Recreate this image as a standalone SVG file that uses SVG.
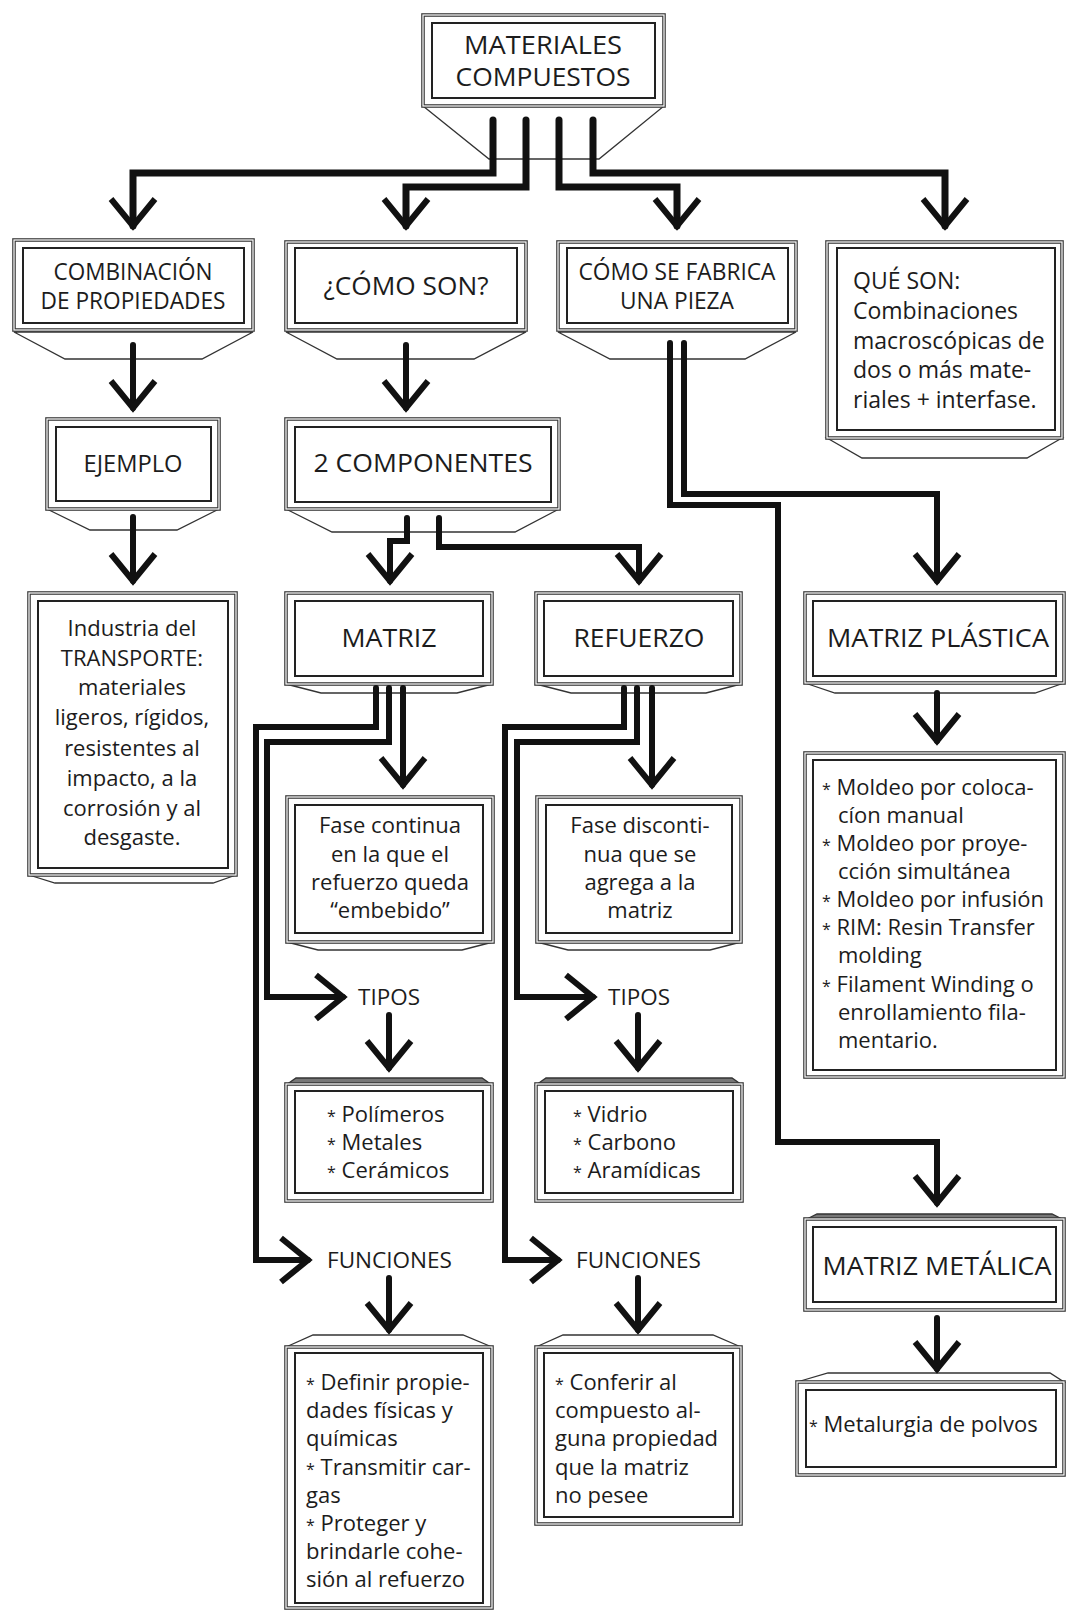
<svg xmlns="http://www.w3.org/2000/svg" width="1066" height="1611" viewBox="0 0 1066 1611">
<style>
text{font-family:"Open Sans","Noto Sans",sans-serif;fill:#1c1c1c;font-size:22px}
.ttl{text-anchor:middle}
.mid{text-anchor:middle}
.o{fill:#fff;stroke:#3a3a3a;stroke-width:3.6}
.ow{fill:none;stroke:#fff;stroke-width:1.2}
.i{fill:none;stroke:#222;stroke-width:2}
.tab{fill:#fff;stroke:#333;stroke-width:1.3}
.tabd{fill:#777;stroke:#333;stroke-width:1.3}
.ast{font-size:16px}
.c{fill:none;stroke:#111;stroke-width:6;stroke-linecap:round;stroke-linejoin:miter}
.ct{fill:none;stroke:#111;stroke-width:7;stroke-linecap:round;stroke-linejoin:miter}
.h{fill:none;stroke:#111;stroke-width:6;stroke-linejoin:miter;stroke-linecap:butt}
</style>
<rect width="1066" height="1611" fill="#fff"/>

<g id="n-top">
<polygon class="tab" points="423,106 489,159 599,159 664,106"/>
<rect class="o" x="423" y="15" width="241" height="91"/><rect class="ow" x="423" y="15" width="241" height="91"/>
<rect class="i" x="432" y="23" width="223" height="75"/>
<text class="ttl" x="543" y="54" style="font-size:25.5px" textLength="158" lengthAdjust="spacingAndGlyphs">MATERIALES</text>
<text class="ttl" x="543" y="86" style="font-size:25.5px" textLength="175" lengthAdjust="spacingAndGlyphs">COMPUESTOS</text>
</g>

<g id="n-comb">
<polygon class="tab" points="14,332 65,359 202,359 253,332"/>
<rect class="o" x="14" y="240" width="239" height="90"/><rect class="ow" x="14" y="240" width="239" height="90"/>
<rect class="i" x="23" y="248" width="221" height="75"/>
<text class="ttl" x="133" y="280" style="font-size:23px" textLength="159" lengthAdjust="spacingAndGlyphs">COMBINACIÓN</text>
<text class="ttl" x="133" y="309" style="font-size:23px" textLength="185" lengthAdjust="spacingAndGlyphs">DE PROPIEDADES</text>
</g>

<g id="n-como">
<polygon class="tab" points="286,332 337,359 474,359 526,332"/>
<rect class="o" x="286" y="242" width="240" height="88"/><rect class="ow" x="286" y="242" width="240" height="88"/>
<rect class="i" x="295" y="248" width="222" height="75"/>
<text class="ttl" x="406" y="295" style="font-size:25px" textLength="165" lengthAdjust="spacingAndGlyphs">¿CÓMO SON?</text>
</g>

<g id="n-fab">
<polygon class="tab" points="558,332 610,359 745,359 796,332"/>
<rect class="o" x="558" y="242" width="238" height="88"/><rect class="ow" x="558" y="242" width="238" height="88"/>
<rect class="i" x="567" y="248" width="221" height="75"/>
<text class="ttl" x="677" y="280" style="font-size:23px" textLength="197" lengthAdjust="spacingAndGlyphs">CÓMO SE FABRICA</text>
<text class="ttl" x="677" y="309" style="font-size:23px" textLength="114" lengthAdjust="spacingAndGlyphs">UNA PIEZA</text>
</g>

<g id="n-que">
<polygon class="tab" points="827,438 862,458 1027,458 1062,438"/>
<rect class="o" x="827" y="242" width="235" height="196"/><rect class="ow" x="827" y="242" width="235" height="196"/>
<rect class="i" x="837" y="248" width="218" height="182"/>
<text x="853" y="289" style="font-size:23px">QUÉ SON:</text>
<text x="853" y="319" style="font-size:23px">Combinaciones</text>
<text x="853" y="349" style="font-size:23px">macroscópicas de</text>
<text x="853" y="378" style="font-size:23px">dos o más mate-</text>
<text x="853" y="408" style="font-size:23px">riales + interfase.</text>
</g>

<g id="n-ejemplo">
<polygon class="tab" points="47,509 90,530 177,530 219,509"/>
<rect class="o" x="47" y="419" width="172" height="90"/><rect class="ow" x="47" y="419" width="172" height="90"/>
<rect class="i" x="56" y="427" width="155" height="74"/>
<text class="ttl" x="133" y="472" style="font-size:24px" textLength="99" lengthAdjust="spacingAndGlyphs">EJEMPLO</text>
</g>

<g id="n-industria">
<polygon class="tab" points="29,875 55,883 213,883 236,875"/>
<rect class="o" x="29" y="593" width="207" height="282"/><rect class="ow" x="29" y="593" width="207" height="282"/>
<rect class="i" x="38" y="601" width="190" height="267"/>
<text class="mid" x="132" y="636">Industria del</text>
<text class="mid" x="132" y="666">TRANSPORTE:</text>
<text class="mid" x="132" y="695">materiales</text>
<text class="mid" x="132" y="725">ligeros, rígidos,</text>
<text class="mid" x="132" y="756">resistentes al</text>
<text class="mid" x="132" y="786">impacto, a la</text>
<text class="mid" x="132" y="816">corrosión y al</text>
<text class="mid" x="132" y="845">desgaste.</text>
</g>

<g id="n-2comp">
<polygon class="tab" points="286,509 332,532 515,532 559,509"/>
<rect class="o" x="286" y="419" width="273" height="90"/><rect class="ow" x="286" y="419" width="273" height="90"/>
<rect class="i" x="295" y="427" width="256" height="75"/>
<text class="ttl" x="423" y="472" style="font-size:26px" textLength="219" lengthAdjust="spacingAndGlyphs">2 COMPONENTES</text>
</g>

<g id="n-matriz">
<polygon class="tab" points="286,684 321,693 457,693 492,684"/>
<rect class="o" x="286" y="593" width="206" height="91"/><rect class="ow" x="286" y="593" width="206" height="91"/>
<rect class="i" x="295" y="601" width="188" height="75"/>
<text class="ttl" x="389" y="647" style="font-size:25px" textLength="95" lengthAdjust="spacingAndGlyphs">MATRIZ</text>
</g>

<g id="n-refuerzo">
<polygon class="tab" points="536,684 571,693 706,693 741,684"/>
<rect class="o" x="536" y="593" width="205" height="91"/><rect class="ow" x="536" y="593" width="205" height="91"/>
<rect class="i" x="544" y="601" width="189" height="75"/>
<text class="ttl" x="639" y="647" style="font-size:25px" textLength="131" lengthAdjust="spacingAndGlyphs">REFUERZO</text>
</g>

<g id="n-fasec">
<polygon class="tab" points="287,942 318,950 462,950 493,942"/>
<rect class="o" x="287" y="797" width="206" height="145"/><rect class="ow" x="287" y="797" width="206" height="145"/>
<rect class="i" x="295" y="805" width="188" height="128"/>
<text class="mid" x="390" y="833">Fase continua</text>
<text class="mid" x="390" y="862">en la que el</text>
<text class="mid" x="390" y="890">refuerzo queda</text>
<text class="mid" x="390" y="918">“embebido”</text>
</g>

<g id="n-fased">
<polygon class="tab" points="537,942 568,950 710,950 741,942"/>
<rect class="o" x="537" y="797" width="204" height="145"/><rect class="ow" x="537" y="797" width="204" height="145"/>
<rect class="i" x="546" y="805" width="186" height="128"/>
<text class="mid" x="640" y="833">Fase disconti-</text>
<text class="mid" x="640" y="862">nua que se</text>
<text class="mid" x="640" y="890">agrega a la</text>
<text class="mid" x="640" y="918">matriz</text>
</g>

<g id="n-tipos-m"><text x="358" y="1005" textLength="62" lengthAdjust="spacingAndGlyphs">TIPOS</text></g>
<g id="n-tipos-r"><text x="608" y="1005" textLength="62" lengthAdjust="spacingAndGlyphs">TIPOS</text></g>
<g id="n-func-m"><text x="327" y="1268" textLength="125" lengthAdjust="spacingAndGlyphs">FUNCIONES</text></g>
<g id="n-func-r"><text x="576" y="1268" textLength="125" lengthAdjust="spacingAndGlyphs">FUNCIONES</text></g>

<g id="n-tipos-matriz">
<polygon class="tabd" points="286,1085 296,1078 482,1078 492,1085"/>
<rect class="o" x="286" y="1084" width="206" height="117"/><rect class="ow" x="286" y="1084" width="206" height="117"/>
<rect class="i" x="295" y="1091" width="188" height="102"/>
<text x="327" y="1122"><tspan class="ast">*</tspan> Polímeros</text>
<text x="327" y="1150"><tspan class="ast">*</tspan> Metales</text>
<text x="327" y="1178"><tspan class="ast">*</tspan> Cerámicos</text>
</g>

<g id="n-tipos-refuerzo">
<polygon class="tabd" points="536,1085 546,1078 732,1078 742,1085"/>
<rect class="o" x="536" y="1084" width="206" height="117"/><rect class="ow" x="536" y="1084" width="206" height="117"/>
<rect class="i" x="545" y="1091" width="188" height="102"/>
<text x="573" y="1122"><tspan class="ast">*</tspan> Vidrio</text>
<text x="573" y="1150"><tspan class="ast">*</tspan> Carbono</text>
<text x="573" y="1178"><tspan class="ast">*</tspan> Aramídicas</text>
</g>

<g id="n-func-matriz">
<polygon class="tab" points="286,1347 313,1335 463,1335 492,1347"/>
<rect class="o" x="286" y="1347" width="206" height="261"/><rect class="ow" x="286" y="1347" width="206" height="261"/>
<rect class="i" x="295" y="1353" width="188" height="250"/>
<text x="306" y="1390"><tspan class="ast">*</tspan> Definir propie-</text>
<text x="306" y="1418">dades físicas y</text>
<text x="306" y="1446">químicas</text>
<text x="306" y="1475"><tspan class="ast">*</tspan> Transmitir car-</text>
<text x="306" y="1503">gas</text>
<text x="306" y="1531"><tspan class="ast">*</tspan> Proteger y</text>
<text x="306" y="1559">brindarle cohe-</text>
<text x="306" y="1587">sión al refuerzo</text>
</g>

<g id="n-func-refuerzo">
<polygon class="tab" points="536,1347 563,1335 713,1335 741,1347"/>
<rect class="o" x="536" y="1347" width="205" height="177"/><rect class="ow" x="536" y="1347" width="205" height="177"/>
<rect class="i" x="544" y="1353" width="189" height="164"/>
<text x="555" y="1390"><tspan class="ast">*</tspan> Conferir al</text>
<text x="555" y="1418">compuesto al-</text>
<text x="555" y="1446">guna propiedad</text>
<text x="555" y="1475">que la matriz</text>
<text x="555" y="1503">no pesee</text>
</g>

<g id="n-mplast">
<polygon class="tab" points="805,683 835,693 1035,693 1064,683"/>
<rect class="o" x="805" y="593" width="259" height="90"/><rect class="ow" x="805" y="593" width="259" height="90"/>
<rect class="i" x="813" y="601" width="243" height="75"/>
<text class="ttl" x="938" y="647" style="font-size:26px" textLength="222" lengthAdjust="spacingAndGlyphs">MATRIZ PLÁSTICA</text>
</g>

<g id="n-moldeo">
<rect class="o" x="805" y="753" width="259" height="324"/><rect class="ow" x="805" y="753" width="259" height="324"/>
<rect class="i" x="813" y="760" width="243" height="310"/>
<text x="822" y="795"><tspan class="ast">*</tspan> Moldeo por coloca-</text>
<text x="838" y="823">cíon manual</text>
<text x="822" y="851"><tspan class="ast">*</tspan> Moldeo por proye-</text>
<text x="838" y="879">cción simultánea</text>
<text x="822" y="907"><tspan class="ast">*</tspan> Moldeo por infusión</text>
<text x="822" y="935"><tspan class="ast">*</tspan> RIM: Resin Transfer</text>
<text x="838" y="963">molding</text>
<text x="822" y="992"><tspan class="ast">*</tspan> Filament Winding o</text>
<text x="838" y="1020">enrollamiento fila-</text>
<text x="838" y="1048">mentario.</text>
</g>

<g id="n-mmet">
<polygon class="tabd" points="805,1220 817,1214 1052,1214 1064,1220"/>
<rect class="o" x="805" y="1219" width="259" height="91"/><rect class="ow" x="805" y="1219" width="259" height="91"/>
<rect class="i" x="813" y="1227" width="243" height="75"/>
<text class="ttl" x="937" y="1275" style="font-size:26px" textLength="229" lengthAdjust="spacingAndGlyphs">MATRIZ METÁLICA</text>
</g>

<g id="n-metal">
<polygon class="tab" points="797,1382 828,1373 1050,1373 1064,1382"/>
<rect class="o" x="797" y="1382" width="267" height="93"/><rect class="ow" x="797" y="1382" width="267" height="93"/>
<rect class="i" x="806" y="1390" width="250" height="77"/>
<text x="809" y="1432"><tspan class="ast">*</tspan> Metalurgia de polvos</text>
</g>

<g id="connectors">
<path class="ct" d="M493,120 V173 H133 V226"/>
<path class="ct" d="M526,120 V187 H406 V226"/>
<path class="ct" d="M559,120 V187 H677 V226"/>
<path class="ct" d="M593,120 V173 H945 V226"/>
<path class="h" d="M111,199 L133,226 L155,199 M384,199 L406,226 L428,199 M655,199 L677,226 L699,199 M923,199 L945,226 L967,199"/>

<path class="c" d="M133,345 V408"/>
<path class="c" d="M133,517 V581"/>
<path class="c" d="M406,345 V408"/>
<path class="h" d="M111,381 L133,408 L155,381 M111,554 L133,581 L155,554 M384,381 L406,408 L428,381"/>

<path class="c" d="M407,518 V541 H390 V581"/>
<path class="c" d="M439,518 V547 H639 V581"/>
<path class="h" d="M368,554 L390,581 L412,554 M617,554 L639,581 L661,554"/>

<path class="c" d="M684,343 V494 H937 V581"/>
<path class="c" d="M670,343 V505 H778 V1142 H937 V1203"/>
<path class="h" d="M915,554 L937,581 L959,554 M915,1176 L937,1203 L959,1176"/>
<path class="c" d="M937,693 V741"/>
<path class="c" d="M937,1318 V1369"/>
<path class="h" d="M915,714 L937,741 L959,714 M915,1342 L937,1369 L959,1342"/>

<path class="c" d="M403,688 V785"/>
<path class="c" d="M389,688 V742 H267 V997 H343"/>
<path class="c" d="M376,688 V727 H256 V1260 H308"/>
<path class="c" d="M389,1015 V1068"/>
<path class="c" d="M389,1278 V1330"/>
<path class="h" d="M381,758 L403,785 L425,758 M316,975 L343,997 L316,1019 M281,1238 L308,1260 L281,1282 M367,1041 L389,1068 L411,1041 M367,1303 L389,1330 L411,1303"/>

<path class="c" d="M652,688 V785"/>
<path class="c" d="M637,688 V742 H517 V997 H593"/>
<path class="c" d="M624,688 V727 H505 V1260 H558"/>
<path class="c" d="M638,1015 V1068"/>
<path class="c" d="M638,1278 V1330"/>
<path class="h" d="M630,758 L652,785 L674,758 M566,975 L593,997 L566,1019 M531,1238 L558,1260 L531,1282 M616,1041 L638,1068 L660,1041 M616,1303 L638,1330 L660,1303"/>
</g>
</svg>
